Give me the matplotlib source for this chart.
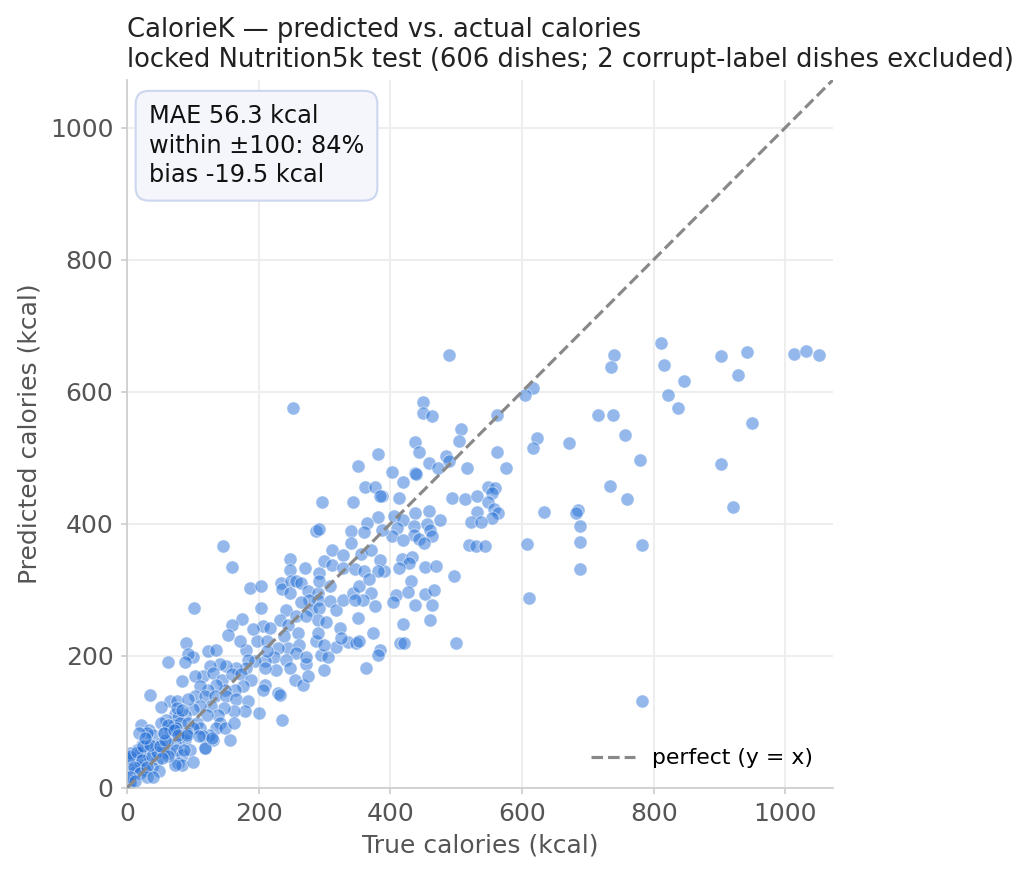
import numpy as np
import matplotlib.pyplot as plt

# points, grouped by region (true kcal, predicted kcal)
true_far = [740, 735, 811, 816, 846, 822, 837, 902, 941, 928,
            950, 902, 920, 1013, 1032, 1051, 716, 738, 757, 672,
            779, 733, 760, 685, 682, 688, 688, 782, 688, 782]
pred_far = [656, 638, 674, 640, 616, 595, 575, 654, 660, 626,
            553, 490, 426, 657, 661, 656, 564, 564, 534, 523,
            496, 457, 437, 421, 417, 397, 373, 368, 332, 132]

true_mid = [489, 616, 604, 449, 449, 464, 562, 508, 504, 623,
            617, 437, 443, 562, 485, 489, 459, 472, 517, 576,
            402, 437, 439, 419, 387, 413, 494, 513, 531, 549,
            559, 555, 549, 531, 558, 563, 555, 633, 522, 537,
            406, 420, 437, 459, 475, 410, 436, 456, 460, 436,
            443, 463, 451, 403, 420, 519, 530, 544, 607, 391,
            417, 433, 429, 413, 452, 470, 496, 432, 408, 404,
            427, 453, 467, 438, 463, 419, 460, 414, 421, 499,
            610, 384]
pred_mid = [656, 605, 595, 585, 567, 563, 565, 543, 526, 530,
            514, 524, 509, 509, 503, 495, 492, 484, 484, 484,
            479, 477, 476, 464, 442, 439, 439, 437, 442, 455,
            454, 446, 433, 418, 422, 416, 409, 418, 403, 402,
            412, 406, 416, 419, 405, 393, 397, 399, 390, 383,
            377, 381, 371, 381, 376, 368, 366, 367, 370, 328,
            347, 350, 341, 333, 334, 336, 321, 313, 292, 282,
            297, 294, 300, 277, 277, 249, 254, 219, 219, 220,
            287, 209]

true_upper = [252, 382, 351, 361, 376, 385, 296, 344, 381, 364,
              287, 292, 340, 360, 388, 340, 311, 328, 356, 371,
              247, 247, 270, 292, 299, 312, 328, 347, 360, 385,
              381, 187, 204, 160, 146, 234, 236, 249, 257, 265,
              247, 275, 290, 292, 308, 290, 277, 265, 280, 292,
              308, 318, 328, 343, 353, 368, 370, 358, 347, 376,
              351, 242, 256, 272, 290, 303, 232, 203, 175, 159,
              207, 244, 323]
pred_upper = [576, 505, 487, 455, 455, 442, 433, 433, 411, 401,
              389, 392, 389, 387, 390, 371, 360, 352, 355, 361,
              346, 330, 333, 326, 343, 338, 333, 332, 329, 345,
              329, 303, 306, 335, 366, 310, 301, 313, 313, 311,
              295, 298, 295, 313, 306, 285, 285, 281, 270, 273,
              283, 270, 285, 295, 306, 316, 295, 285, 285, 275,
              258, 270, 260, 260, 255, 252, 255, 273, 256, 247,
              245, 247, 242]

true_low = [217, 197, 212, 260, 239, 244, 262, 257, 229, 224,
            209, 194, 181, 184, 212, 242, 247, 227, 209, 209,
            207, 229, 255, 267, 272, 275, 181, 166, 151, 141,
            126, 101, 123, 136, 115, 103, 130, 145, 160, 173,
            188, 176, 164, 149, 136, 123, 111, 103, 118, 133,
            151, 166, 184, 200, 179, 162, 147, 128, 111, 101,
            138, 121, 232, 154, 171, 192, 102,
            373, 381, 363, 300, 272, 295, 305, 317, 287, 300,
            335, 348, 352, 325, 290]
pred_low = [242, 222, 222, 235, 230, 212, 217, 204, 212, 199,
            192, 192, 209, 194, 207, 194, 182, 179, 182, 156,
            149, 144, 164, 156, 187, 169, 182, 182, 184, 187,
            184, 199, 207, 209, 169, 169, 174, 164, 172, 172,
            164, 154, 149, 149, 156, 149, 154, 139, 139, 139,
            139, 134, 131, 113, 116, 116, 121, 124, 124, 119,
            111, 111, 141, 231, 223, 240, 273,
            234, 201, 181, 178, 199, 201, 199, 213, 222, 216,
            221, 219, 222, 227, 235]

true_small = [89, 92, 62, 88, 84, 35, 66, 76, 51, 93,
              88, 73, 78, 60, 71, 81, 93, 106, 235, 141,
              136, 124, 111, 101, 21, 33, 40, 51, 56, 66,
              75, 81, 88, 73, 61, 51, 43, 30, 23, 15,
              8, 15, 23, 33, 46, 38, 28, 10, 5, 2,
              48, 56, 66, 75, 83, 96, 78, 83, 101, 119,
              130, 157, 149, 162,
              91, 116, 18, 1, 5, 30, 63, 76, 5, 20]
pred_small = [220, 203, 191, 191, 162, 141, 131, 131, 123, 134,
              111, 112, 108, 103, 96, 98, 98, 98, 103, 98,
              91, 80, 91, 91, 95, 88, 80, 98, 83, 88,
              91, 78, 73, 68, 70, 68, 63, 63, 65, 58,
              45, 38, 43, 48, 43, 32, 27, 22, 12, 45,
              26, 55, 53, 58, 50, 58, 38, 35, 40, 60,
              73, 73, 91, 98,
              83, 78, 32, 30, 53, 83, 96, 121, 7, 55]

# extra reads of the crowded corner near the origin
true_core = [5, 15, 25, 23, 10, 20, 5, 13, 30, 38,
             45, 35, 50, 58, 56, 71, 78, 86, 73, 91,
             109, 119, 129, 30, 40, 18, 28, 63, 53, 83]
pred_core = [48, 55, 63, 43, 32, 22, 17, 10, 32, 48,
             55, 65, 63, 73, 83, 88, 80, 58, 35, 80,
             78, 60, 75, 17, 17, 83, 75, 48, 45, 118]

true_kcal = np.array(true_far + true_mid + true_upper + true_low + true_small + true_core)
pred_kcal = np.array(pred_far + pred_mid + pred_upper + pred_low + pred_small + pred_core)

stats_text = "MAE 56.3 kcal\nwithin \u00b1100: 84%\nbias -19.5 kcal"
lim = 1072

fig = plt.figure(figsize=(6.88, 5.84), dpi=150)
ax = fig.add_axes([0.123, 0.1005, 0.684, 0.8082])

ax.scatter(true_kcal, pred_kcal, s=40, color="#2a73d9", alpha=0.5,
           edgecolors="white", linewidths=0.5, zorder=2)
ax.plot([0, lim], [0, lim], ls="--", color="#888888", lw=1.5,
        label="perfect (y = x)", zorder=3)

ax.set_xlim(0, lim)
ax.set_ylim(0, lim)
ax.set_xticks([0, 200, 400, 600, 800, 1000])
ax.set_yticks([0, 200, 400, 600, 800, 1000])
ax.grid(True, color="#eeeeee", lw=1)
ax.set_axisbelow(True)
for side in ["top", "right"]:
    ax.spines[side].set_visible(False)
for side in ["left", "bottom"]:
    ax.spines[side].set_color("#cccccc")
ax.tick_params(labelsize=12, labelcolor="#555555", color="#cccccc", length=3)

ax.set_xlabel("True calories (kcal)", fontsize=12, color="#555555")
ax.set_ylabel("Predicted calories (kcal)", fontsize=12, color="#555555")
ax.set_title("CalorieK \u2014 predicted vs. actual calories\n"
             "locked Nutrition5k test (606 dishes; 2 corrupt-label dishes excluded)",
             loc="left", fontsize=12.4, color="#222222", pad=6)

ax.text(0.031, 0.966, stats_text, transform=ax.transAxes, va="top", ha="left",
        fontsize=11.5, color="#111111", zorder=5, linespacing=1.3,
        bbox=dict(boxstyle="round,pad=0.55", facecolor="#f4f6fb", edgecolor="#ccd6ee"))

ax.legend(loc="lower right", frameon=False, fontsize=10.5)

fig.savefig("out.png", dpi=150)
